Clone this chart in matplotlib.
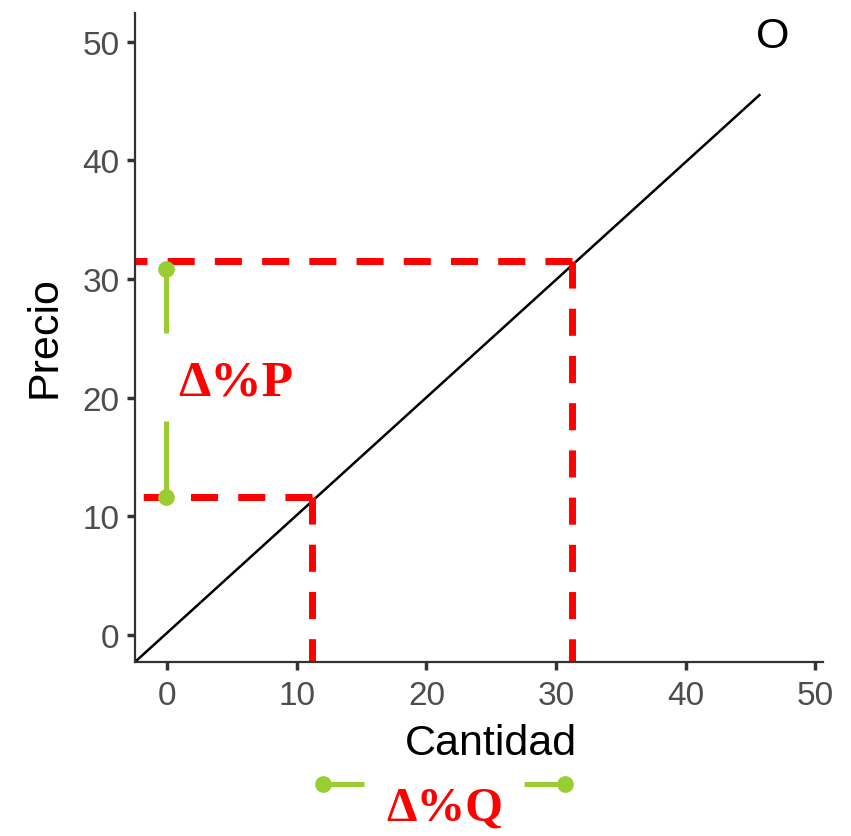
import matplotlib.pyplot as plt

# curva de oferta (recta)
oferta_x = [-2.5, 45.7]
oferta_y = [-2.3, 45.5]

# puntos de referencia
q1, p1 = 11.2, 11.6
q2, p2 = 31.2, 31.5

# segmentos verdes (delta precio, delta cantidad)
dp_x = -0.1
dp_arriba = [30.8, 25.4]
dp_abajo = [18.0, 11.6]
dq_y = -12.6
dq_izq = [12.0, 15.2]
dq_der = [27.5, 30.7]

xticks = [0, 10, 20, 30, 40, 50]
yticks = [0, 10, 20, 30, 40, 50]

verde = '#9ACD32'
rojo = '#FF0000'
gris = '#4D4D4D'

plt.rcParams['font.family'] = ['Liberation Sans', 'DejaVu Sans']

fig = plt.figure(figsize=(8.51, 8.37), dpi=100)
ax = fig.add_axes([0.1586, 0.2079, 0.8084, 0.7751])

ax.plot(oferta_x, oferta_y, color='black', lw=1.8)

# líneas punteadas rojas (desde el punto hacia los ejes)
dash = dict(color=rojo, lw=5, dashes=(3.9, 2.9), solid_capstyle='butt')
ax.plot([q2, -2.5], [p2, p2], **dash)
ax.plot([q2, q2], [p2, -2.3], **dash)
ax.plot([q1, -2.5], [p1, p1], **dash)
ax.plot([q1, q1], [p1, -2.3], **dash)

# delta P
ax.plot([dp_x, dp_x], dp_arriba, color=verde, lw=3.6, solid_capstyle='butt')
ax.plot([dp_x, dp_x], dp_abajo, color=verde, lw=3.6, solid_capstyle='butt')
ax.plot([dp_x, dp_x], [dp_arriba[0], dp_abajo[1]], 'o', color=verde, ms=11)
ax.text(5.3, 21.3, 'Δ%P', color=rojo, fontsize=37, fontweight='bold',
        family=['Liberation Serif', 'DejaVu Serif'], ha='center', va='center')

# delta Q (debajo del gráfico)
ax.plot(dq_izq, [dq_y, dq_y], color=verde, lw=3.6, solid_capstyle='butt', clip_on=False)
ax.plot(dq_der, [dq_y, dq_y], color=verde, lw=3.6, solid_capstyle='butt', clip_on=False)
ax.plot([dq_izq[0], dq_der[1]], [dq_y, dq_y], 'o', color=verde, ms=11, clip_on=False)
ax.text(21.4, -14.6, 'Δ%Q', color=rojo, fontsize=35, fontweight='bold',
        family=['Liberation Serif', 'DejaVu Serif'], ha='center', va='center')

ax.text(46.7, 50.5, 'O', fontsize=31, ha='center', va='center')

ax.set_xlim(-2.5, 50.6)
ax.set_ylim(-2.3, 52.4)
ax.set_xticks(xticks)
ax.set_yticks(yticks)
ax.tick_params(labelsize=24, labelcolor=gris, color='#333333', width=2.5, length=6)
ax.tick_params(axis='x', pad=7)
ax.tick_params(axis='y', pad=5)
ax.spines['top'].set_visible(False)
ax.spines['right'].set_visible(False)
for s in ['left', 'bottom']:
    ax.spines[s].set_linewidth(1.6)
    ax.spines[s].set_color('#333333')

ax.set_xlabel('Cantidad', fontsize=31)
ax.set_ylabel('Precio', fontsize=31)
ax.xaxis.set_label_coords(0.517, -0.094)
ax.yaxis.set_label_coords(-0.103, 0.503)

fig.savefig('out.png', dpi=100)
